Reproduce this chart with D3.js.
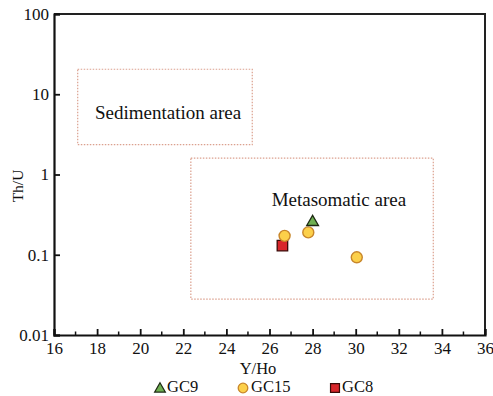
<!DOCTYPE html>
<html>
<head>
<meta charset="utf-8">
<script src="https://cdn.jsdelivr.net/npm/d3@7"></script>
<style>
  html, body { margin: 0; padding: 0; background: #fff; }
  svg { display: block; }
  text { font-family: "Liberation Serif", "Times New Roman", "DejaVu Serif", serif; fill: #111; }
</style>
</head>
<body>
<svg id="chart" width="493" height="396"></svg>
<script>
// Y/Ho vs Th/U discrimination diagram
const xDomain = [16, 36];
const yDomain = [0.01, 100];
const xMajorTicks = [16, 18, 20, 22, 24, 26, 28, 30, 32, 34, 36];
const xMinorTicks = [17, 19, 21, 23, 25, 27, 29, 31, 33, 35];
const yTicks = [0.01, 0.1, 1, 10, 100];
const yTickLabels = ["0.01", "0.1", "1", "10", "100"];

// Field outlines: [xMin, xMax, yMin, yMax]
const regionNames = ["Sedimentation area", "Metasomatic area"];
const regionBounds = [
  [17.1, 25.2, 2.35, 20.5],
  [22.35, 33.6, 0.028, 1.6]
];

// Samples
const seriesNames = ["GC9", "GC15", "GC8"];
const gc9X = [28.0];
const gc9Y = [0.255];
const gc15X = [26.7, 27.8, 30.05];
const gc15Y = [0.172, 0.19, 0.093];
const gc8X = [26.6];
const gc8Y = [0.13];

const margin = { left: 54, right: 8, top: 14, bottom: 61 };
const W = 493, H = 396;
const svg = d3.select("#chart");

const x = d3.scaleLinear().domain(xDomain).range([margin.left, W - margin.right]);
const y = d3.scaleLog().domain(yDomain).range([H - margin.bottom, margin.top]);

// Field rectangles
const regions = svg.append("g");
regionBounds.forEach((b, i) => {
  regions.append("rect")
    .attr("x", x(b[0])).attr("y", y(b[3]))
    .attr("width", x(b[1]) - x(b[0])).attr("height", y(b[2]) - y(b[3]))
    .attr("fill", "none").attr("stroke", "#dba08e")
    .attr("stroke-width", 1.2).attr("stroke-dasharray", "1.5,1.5");
});
regions.append("text").attr("x", x(17.9)).attr("y", y(4.9))
  .attr("font-size", 19).text(regionNames[0]);
regions.append("text").attr("x", x(26.1)).attr("y", y(0.4))
  .attr("font-size", 19).text(regionNames[1]);

// Frame (top and right)
svg.append("path")
  .attr("d", `M${x(16)},${y(100)}H${x(36)}V${y(0.01)}`)
  .attr("fill", "none").attr("stroke", "#222").attr("stroke-width", 2);

// Bottom axis, inward ticks
const xAxis = svg.append("g").attr("transform", `translate(0,${y(0.01)})`)
  .call(d3.axisBottom(x).tickValues(xMajorTicks).tickSize(-6).tickPadding(7).tickFormat(d3.format("d")));
xAxis.append("g").selectAll("line").data(xMinorTicks).join("line")
  .attr("x1", d => x(d)).attr("x2", d => x(d)).attr("y1", 0).attr("y2", -3.5)
  .attr("stroke", "#111").attr("stroke-width", 1.5);

// Left axis, inward ticks
const yAxis = svg.append("g").attr("transform", `translate(${x(16)},0)`)
  .call(d3.axisLeft(y).tickValues(yTicks).tickSize(-6).tickPadding(5)
    .tickFormat((d, i) => yTickLabels[i]));

[xAxis, yAxis].forEach(g => {
  g.select(".domain").attr("stroke", "#111").attr("stroke-width", 2.2);
  g.selectAll(".tick line").attr("stroke", "#111").attr("stroke-width", 1.8);
  g.selectAll(".tick text").attr("font-size", 17)
    .attr("font-family", "Liberation Serif, Times New Roman, serif").attr("fill", "#111");
});
xAxis.selectAll(".tick text").attr("dy", "0.71em");

// Axis titles
svg.append("text").attr("x", 258).attr("y", 373.5).attr("text-anchor", "middle")
  .attr("font-size", 16.5).text("Y/Ho");
svg.append("text").attr("transform", "translate(23,186) rotate(-90)")
  .attr("text-anchor", "middle").attr("font-size", 15.5).text("Th/U");

// Marker shapes
const tri = d3.symbol().type(d3.symbolTriangle).size(60);
const sq = d3.symbol().type(d3.symbolSquare).size(110);
const circleStyle = { fill: "#fcd04a", stroke: "#c8862a" };
const triStyle = { fill: "#6fb052", stroke: "#1e2a14" };
const sqStyle = { fill: "#d8262a", stroke: "#3a0a08" };

const pts = svg.append("g");
pts.selectAll("path.gc8").data(gc8X.map((v, i) => [v, gc8Y[i]])).join("path")
  .attr("class", "gc8").attr("d", sq)
  .attr("transform", d => `translate(${x(d[0])},${y(d[1])})`)
  .attr("fill", sqStyle.fill).attr("stroke", sqStyle.stroke).attr("stroke-width", 1.3);
pts.selectAll("circle.gc15").data(gc15X.map((v, i) => [v, gc15Y[i]])).join("circle")
  .attr("class", "gc15").attr("cx", d => x(d[0])).attr("cy", d => y(d[1])).attr("r", 5.5)
  .attr("fill", circleStyle.fill).attr("stroke", circleStyle.stroke).attr("stroke-width", 1.4);
pts.selectAll("path.gc9").data(gc9X.map((v, i) => [v, gc9Y[i]])).join("path")
  .attr("class", "gc9").attr("d", tri)
  .attr("transform", d => `translate(${x(d[0])},${y(d[1])})`)
  .attr("fill", triStyle.fill).attr("stroke", triStyle.stroke).attr("stroke-width", 1.3);

// Legend
const legend = svg.append("g").attr("transform", "translate(0,387)");
const legendX = [160, 243, 335];
const legendTextX = [167, 251, 342];
legend.append("path").attr("d", d3.symbol().type(d3.symbolTriangle).size(50))
  .attr("transform", `translate(${legendX[0]},2)`)
  .attr("fill", triStyle.fill).attr("stroke", triStyle.stroke).attr("stroke-width", 1.2);
legend.append("circle").attr("cx", legendX[1]).attr("cy", 1).attr("r", 4.8)
  .attr("fill", circleStyle.fill).attr("stroke", circleStyle.stroke).attr("stroke-width", 1.3);
legend.append("path").attr("d", d3.symbol().type(d3.symbolSquare).size(80))
  .attr("transform", `translate(${legendX[2]},1)`)
  .attr("fill", sqStyle.fill).attr("stroke", sqStyle.stroke).attr("stroke-width", 1.2);
seriesNames.forEach((n, i) => {
  legend.append("text").attr("x", legendTextX[i]).attr("y", 5)
    .attr("font-size", 16.5).text(n);
});
</script>
</body>
</html>
